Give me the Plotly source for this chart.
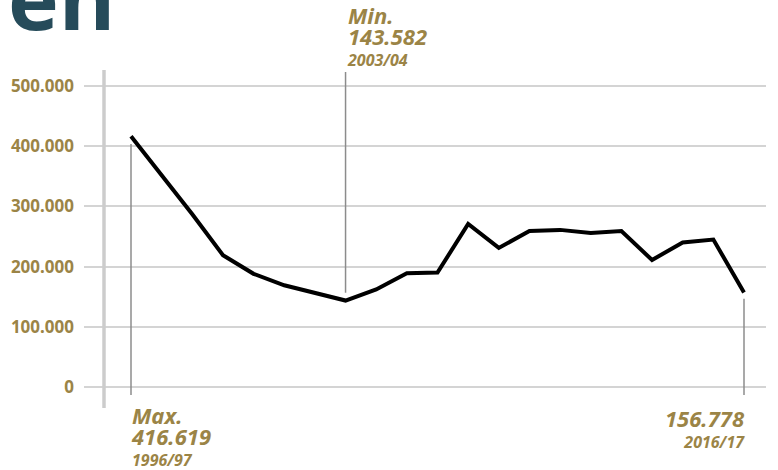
import plotly.graph_objects as go

years = ["1996/97", "1997/98", "1998/99", "1999/00", "2000/01", "2001/02", "2002/03",
         "2003/04", "2004/05", "2005/06", "2006/07", "2007/08", "2008/09", "2009/10",
         "2010/11", "2011/12", "2012/13", "2013/14", "2014/15", "2015/16", "2016/17"]
values = [416619, 353000, 287000, 219000, 188000, 169000, 156000, 143582, 162000, 189000,
          190000, 271000, 231000, 259000, 261000, 256000, 259000, 211000, 240000, 245000,
          156778]
tick_vals = [0, 100000, 200000, 300000, 400000, 500000]
tick_text = ["0", "100.000", "200.000", "300.000", "400.000", "500.000"]

GOLD = "#9b8446"
W, H = 778, 470
x_idx = list(range(len(years)))
i_max = values.index(max(values))
i_min = values.index(min(values))
i_end = len(values) - 1

# pixel mapping helpers (layout only)
x0_px, step_px = 131, 30.65
left_px, right_px = 84, 766
y0_px, per_unit = 387, 301 / 500000
xr = [(left_px - x0_px) / step_px, (right_px - x0_px) / step_px]
yr = [-(H - y0_px) / per_unit, y0_px / per_unit]

def ypx(p):
    return (y0_px - p) / per_unit

def ypaper(p):
    return 1 - p / H

fig = go.Figure()
fig.add_trace(go.Scatter(x=x_idx, y=values, mode="lines",
                         line=dict(color="black", width=4), hoverinfo="skip"))

font_fam = "Noto Sans"
shapes = [
    dict(type="line", xref="x", yref="y", x0=(104 - x0_px) / step_px, x1=(104 - x0_px) / step_px,
         y0=ypx(408), y1=ypx(70), line=dict(color="#cccccc", width=3.5), layer="between"),
    dict(type="line", xref="x", yref="y", x0=i_max, x1=i_max, y0=ypx(395),
         y1=values[i_max] - 13000, line=dict(color="#8c8c8c", width=1.5), layer="between"),
    dict(type="line", xref="x", yref="y", x0=i_min, x1=i_min, y0=values[i_min] + 13000,
         y1=ypx(72), line=dict(color="#8c8c8c", width=1.5), layer="between"),
    dict(type="line", xref="x", yref="y", x0=i_end, x1=i_end, y0=ypx(395),
         y1=values[i_end] - 10000, line=dict(color="#8c8c8c", width=1.5), layer="between"),
]

def fmt(v):
    return f"{v:,}".replace(",", ".")

def big(t):
    return f"<span style='font-size:22px'>{t}</span>"

ann = []
def block(lines, xi, py, anchor, xshift=0):
    ann.append(dict(x=xi, xref="x", y=ypaper(py), yref="paper",
                    text="<b><i>" + "<br>".join(lines) + "</i></b>", showarrow=False,
                    xanchor=anchor, yanchor="middle", align=anchor, xshift=xshift,
                    font=dict(family=font_fam, size=16, color=GOLD)))

block([big("Min."), big(fmt(values[i_min])), years[i_min]], i_min, 35, "left", -1)
block([big("Max."), big(fmt(values[i_max])), years[i_max]], i_max, 435, "left", -2)
block([big(fmt(values[i_end])), years[i_end]], i_end, 428, "right", 3)

ann.append(dict(x=0, xref="paper", y=ypaper(57), yref="paper", text="<b>en</b>",
                showarrow=False, xanchor="right", yanchor="bottom", xshift=-84 + 117,
                font=dict(family="Open Sans", size=86, color="#264b5a")))

fig.update_layout(
    width=W, height=H, autosize=False,
    margin=dict(l=left_px, r=W - right_px, t=0, b=0),
    plot_bgcolor="white", paper_bgcolor="white",
    showlegend=False,
    shapes=shapes, annotations=ann,
    xaxis=dict(range=xr, showgrid=False, zeroline=False, showticklabels=False,
               showline=False, fixedrange=True),
    yaxis=dict(range=yr, tickvals=tick_vals, ticktext=tick_text, showgrid=True,
               gridcolor="#d4d4d4", gridwidth=2, zeroline=False, showline=False,
               ticks="", ticklabelstandoff=9,
               tickfont=dict(family=font_fam, size=17, color=GOLD, weight="bold")),
)

fig.write_html("out.html")
